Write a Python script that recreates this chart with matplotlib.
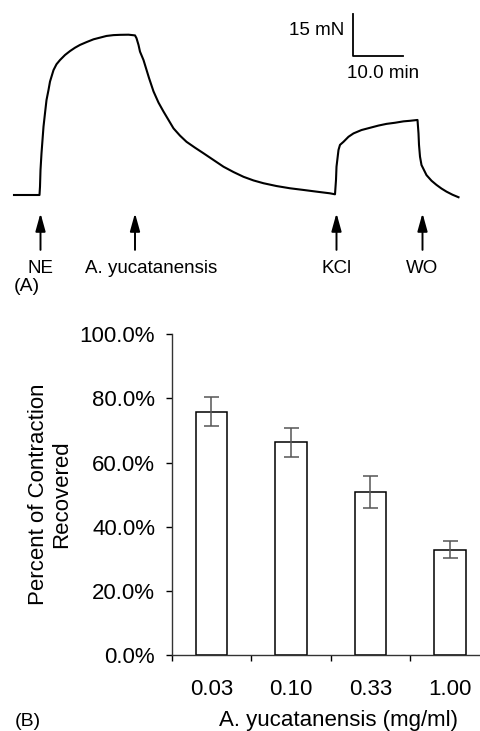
import numpy as np
import matplotlib
matplotlib.use("Agg")
import matplotlib.pyplot as plt

plt.rcParams['font.family'] = ['Liberation Sans', 'DejaVu Sans']

# (A) tension trace: time in min, tension in mN
trace_t = [0.0, 5.1, 5.2, 5.3, 5.5, 5.9, 6.2, 6.5, 6.9, 7.2, 7.9, 8.5, 9.2,
           10.2, 11.2, 12.2, 13.2, 14.5, 15.9, 17.2, 18.5, 19.9, 21.2, 22.9,
           24.2, 24.5, 24.9, 25.2, 25.9, 27.0, 27.9, 28.9, 29.9, 30.9, 31.9,
           33.2, 34.5, 36.2, 37.9, 39.9, 41.9, 43.9, 45.9, 47.9, 49.9, 52.5,
           55.2, 57.9, 60.5, 63.2, 64.2, 64.4, 64.5, 64.9, 65.2, 65.9, 66.9,
           67.9, 69.5, 71.2, 72.9, 74.5, 76.2, 77.9, 79.2, 80.7, 80.9, 81.0,
           81.2, 81.5, 82.5, 83.5, 84.5, 85.5, 86.5, 87.7, 88.9]
trace_f = [0.0, 0.0, 3.0, 8.9, 14.9, 24.4, 29.2, 33.9, 37.5, 40.5, 44.6, 46.7,
           48.2, 50.0, 51.4, 52.6, 53.6, 54.6, 55.6, 56.2, 56.8, 57.1, 57.2,
           57.25, 57.0, 56.0, 53.6, 51.2, 48.2, 41.8, 37.0, 33.0, 29.8, 26.8,
           23.8, 21.2, 19.0, 16.9, 14.9, 12.5, 10.1, 8.2, 6.5, 5.2, 4.2, 3.2,
           2.4, 1.8, 1.2, 0.6, 0.25, 5.4, 10.1, 16.1, 17.9, 19.0, 20.8, 22.0,
           23.2, 24.0, 24.8, 25.4, 25.8, 26.3, 26.5, 26.8, 22.0, 17.9, 13.7,
           10.7, 7.1, 5.1, 3.6, 2.3, 1.2, 0.1, -0.8]

events = ['NE', 'A. yucatanensis', 'KCl', 'WO']
event_t = [5.3, 24.2, 64.5, 81.7]

# scale bar
bar_mN = 15
bar_min = 10.0

# (B) recovery data
doses = ['0.03', '0.10', '0.33', '1.00']
recovered = [75.8, 66.3, 50.7, 32.9]
sem = [4.5, 4.45, 5.0, 2.55]
yticks = [0, 20, 40, 60, 80, 100]

W, H = 480, 731
fig = plt.figure(figsize=(W / 100, H / 100), dpi=100)

# ---- panel A ----
axa = fig.add_axes([0, 1 - 300 / H, 1, 300 / H])
axa.set_xlim(-2.8, 93.2)
axa.set_ylim(-37.5, 69.64)
axa.axis('off')
axa.plot(trace_t, trace_f, color='black', lw=1.5, solid_joinstyle='round')

label_dx = [0, 3.2, 0, 0]
for name, t, dx in zip(events, event_t, label_dx):
    axa.annotate('', xy=(t, -6.5), xytext=(t, -19.6),
                 arrowprops=dict(arrowstyle='-|>,head_length=0.9,head_width=0.25',
                                 color='black', lw=1.4, shrinkA=0, shrinkB=0,
                                 mutation_scale=12))
    axa.text(t + dx, -26.2, name, ha='center', va='center', fontsize=13.5)

sx, sy = 67.74, 49.6
axa.plot([sx, sx, sx + bar_min], [sy + bar_mN, sy, sy], color='black', lw=1.3)
axa.text(sx - 1.7, sy + 9.3, '%d mN' % bar_mN, ha='right', va='center', fontsize=13.5)
axa.text(sx + 6.0, sy - 6.1, '%.1f min' % bar_min, ha='center', va='center', fontsize=13.5)

fig.text(14 / W, 1 - 287 / H, '(A)', ha='left', va='center', fontsize=14)

# ---- panel B ----
left, right, top, bottom = 171.7, 489.7, 334.0, 655.3
axb = fig.add_axes([left / W, 1 - bottom / H, (right - left) / W, (bottom - top) / H])
x = np.arange(len(doses))
axb.bar(x, recovered, width=0.4, color='white', edgecolor='black', linewidth=1.1)
axb.errorbar(x, recovered, yerr=sem, fmt='none', ecolor='#555555', elinewidth=1.1,
             capsize=5.4, capthick=1.1)

axb.set_xlim(-0.5, 3.5)
axb.set_ylim(0, 100)
axb.set_yticks(yticks)
axb.set_yticklabels(['%.1f%%' % v for v in yticks], fontsize=16)
axb.tick_params(axis='y', direction='out', length=4, width=1, pad=8)

axb.set_xticks(x - 0.5)
axb.set_xticklabels([])
axb.set_xticks(x, minor=True)
axb.set_xticklabels(doses, minor=True, fontsize=16)
axb.tick_params(axis='x', which='major', direction='out', length=4.3, width=1)
axb.tick_params(axis='x', which='minor', length=0, pad=17)

for s in ['top', 'right']:
    axb.spines[s].set_visible(False)
for s in ['left', 'bottom']:
    axb.spines[s].set_linewidth(1)
    axb.spines[s].set_color('#333333')

axb.set_ylabel('Percent of Contraction\nRecovered', fontsize=16, labelpad=5,
               linespacing=1.15)
axb.set_xlabel('A. yucatanensis (mg/ml)', fontsize=16)
axb.xaxis.set_label_coords(0.526, -0.170)
axb.xaxis.label.set_va('top')

fig.text(15 / W, 1 - 722 / H, '(B)', ha='left', va='center', fontsize=14)

fig.savefig('out.png', dpi=100)
